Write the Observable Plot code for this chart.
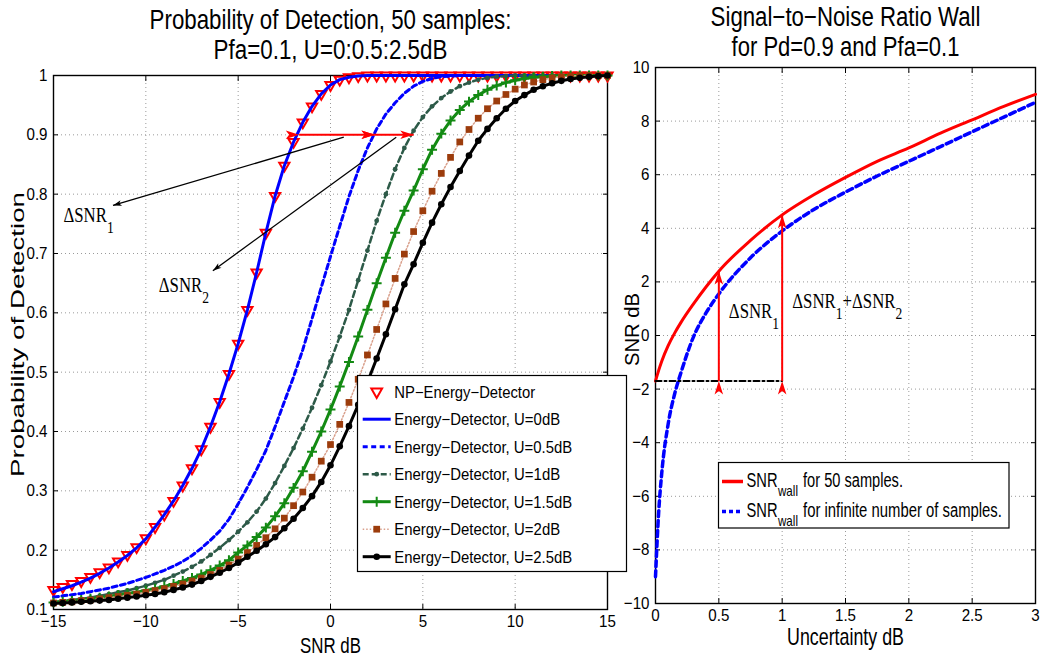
<!DOCTYPE html>
<html>
<head>
<meta charset="utf-8">
<script src="https://cdn.jsdelivr.net/npm/d3@7"></script>
<script src="https://cdn.jsdelivr.net/npm/@observablehq/plot@0.6"></script>
<style>
html,body{margin:0;padding:0;background:#fff;}
#wrap{position:relative;width:1046px;height:663px;overflow:hidden;background:#fff;}
#wrap > svg{position:absolute;top:0;overflow:visible;background:transparent !important;max-width:none !important;}
</style>
</head>
<body>
<div id="wrap"></div>
<script>
// ---------------- data ----------------
const snrDb = [-15,-14.5,-14,-13.5,-13,-12.5,-12,-11.5,-11,-10.5,-10,-9.5,-9,-8.5,-8,-7.5,-7,-6.5,-6,-5.5,-5,-4.5,-4,-3.5,-3,-2.5,-2,-1.5,-1,-0.5,0,0.5,1,1.5,2,2.5,3,3.5,4,4.5,5,5.5,6,6.5,7,7.5,8,8.5,9,9.5,10,10.5,11,11.5,12,12.5,13,13.5,14,14.5,15];

const pdNP = [0.133,0.138,0.143,0.148,0.155,0.163,0.171,0.181,0.192,0.205,0.220,0.239,0.260,0.283,0.309,0.338,0.370,0.408,0.450,0.497,0.548,0.605,0.668,0.735,0.797,0.848,0.888,0.921,0.948,0.969,0.984,0.993,0.997,0.999,
  1,1,1,1,1,1,1,1,1,1, 1,1,1,1,1,1,1,1,1,1, 1,1,1,1,1,1,1];
const pdU0 = [0.130,0.135,0.140,0.146,0.153,0.161,0.170,0.180,0.191,0.204,0.219,0.239,0.260,0.283,0.309,0.338,0.370,0.408,0.450,0.497,0.548,0.605,0.668,0.735,0.797,0.848,0.888,0.921,0.948,0.969,0.984,0.993,0.997,0.999,
  1,1,1,1,1,1,1,1,1,1, 1,1,1,1,1,1,1,1,1,1, 1,1,1,1,1,1,1];
const pdU05 = [0.121,0.123,0.125,0.127,0.130,0.133,0.136,0.140,0.144,0.149,0.154,0.160,0.166,0.173,0.181,0.191,0.203,0.217,0.232,0.252,0.278,0.306,0.336,0.368,0.408,0.450,0.492,0.538,0.590,0.643,0.695,0.746,0.796,0.840,0.878,0.910,0.935,0.954,0.970,0.982,0.990,0.995,0.998,0.999,
  1,1,1,1,1,1,1,1,1,1, 1,1,1,1,1,1,1];
const pdU1 = [0.113,0.114,0.116,0.118,0.120,0.123,0.126,0.129,0.132,0.136,0.140,0.145,0.150,0.157,0.164,0.172,0.181,0.192,0.204,0.217,0.231,0.247,0.265,0.287,0.313,0.342,0.372,0.405,0.440,0.478,0.518,0.560,0.605,0.655,0.705,0.755,0.800,0.842,0.878,0.907,0.930,0.948,0.962,0.973,0.982,0.988,0.993,0.996,0.998,0.999,
  1,1,1,1,1,1,1,1,1,1,1];
const pdU15 = [0.112,0.113,0.115,0.116,0.118,0.120,0.122,0.124,0.127,0.129,0.132,0.135,0.139,0.143,0.148,0.153,0.159,0.166,0.174,0.183,0.196,0.208,0.222,0.238,0.257,0.279,0.305,0.333,0.366,0.400,0.437,0.476,0.517,0.560,0.605,0.650,0.693,0.735,0.772,0.806,0.842,0.875,0.902,0.924,0.942,0.956,0.967,0.976,0.983,0.988,0.992,0.995,0.997,0.998,0.999,
  1,1,1,1,1,1];
const pdU2 = [0.111,0.112,0.113,0.115,0.116,0.118,0.120,0.122,0.124,0.126,0.129,0.132,0.135,0.139,0.143,0.148,0.153,0.159,0.166,0.175,0.185,0.196,0.208,0.221,0.236,0.254,0.275,0.298,0.323,0.350,0.378,0.412,0.449,0.488,0.529,0.572,0.615,0.658,0.699,0.737,0.772,0.805,0.835,0.862,0.888,0.909,0.928,0.944,0.957,0.968,0.977,0.984,0.989,0.993,0.996,0.998,0.999,
  1,1,1,1];
const pdU25 = [0.110,0.111,0.112,0.113,0.114,0.115,0.116,0.118,0.120,0.122,0.124,0.126,0.129,0.133,0.137,0.142,0.148,0.155,0.162,0.170,0.179,0.189,0.199,0.210,0.222,0.237,0.253,0.271,0.291,0.315,0.343,0.375,0.409,0.445,0.483,0.523,0.564,0.606,0.648,0.682,0.718,0.752,0.783,0.812,0.839,0.865,0.890,0.910,0.928,0.944,0.957,0.967,0.976,0.982,0.987,0.991,0.994,0.996,0.998,0.999,1.000];

const uncertDb = [0,0.025,0.05,0.1,0.15,0.2,0.3,0.4,0.5,0.75,1,1.25,1.5,1.75,2,2.25,2.5,2.75,3];
const wall50   = [-1.7,-1.3,-0.95,-0.38,0.08,0.48,1.18,1.82,2.4,3.55,4.5,5.25,5.9,6.5,7.0,7.55,8.05,8.55,9.0];
const wallInf  = [-9.0,-6.6,-5.1,-3.3,-2.2,-1.4,-0.05,0.85,1.55,2.9,3.9,4.7,5.35,5.95,6.5,7.05,7.6,8.15,8.7];

// tick values and labels
const leftXTicks = [-15,-10,-5,0,5,10,15];
const leftYTicks = [0.1,0.2,0.3,0.4,0.5,0.6,0.7,0.8,0.9,1];
const rightXTicks = [0,0.5,1,1.5,2,2.5,3];
const rightYTicks = [-10,-8,-6,-4,-2,0,2,4,6,8,10];
const leftTitle = ["Probability of Detection, 50 samples:", "Pfa=0.1, U=0:0.5:2.5dB"];
const rightTitle = ["Signal\u2212to\u2212Noise Ratio Wall", "for Pd=0.9 and Pfa=0.1"];
const leftXLabel = "SNR dB", leftYLabel = "Probability of Detection";
const rightXLabel = "Uncertainty dB", rightYLabel = "SNR dB";
const leftLegendLabels = ["NP\u2212Energy\u2212Detector","Energy\u2212Detector, U=0dB","Energy\u2212Detector, U=0.5dB","Energy\u2212Detector, U=1dB","Energy\u2212Detector, U=1.5dB","Energy\u2212Detector, U=2dB","Energy\u2212Detector, U=2.5dB"];
const rightLegendMain = ["SNR","SNR"];
const rightLegendSub = ["wall","wall"];
const rightLegendRest = ["for 50 samples.","for infinite number of samples."];

// annotations (data units)
const gapArrows = [{from:-1.7, to:2.4, pd:0.9},{from:2.4, to:4.5, pd:0.9}];
const leaderArrows = [{s1:0.72, p1:0.896, s2:-11.78, p2:0.781},{s1:3.56, p1:0.896, s2:-6.37, p2:0.671}];
const leftDelta = [{s:-14.46, p:0.765, text:"\u0394SNR_1"},{s:-9.30, p:0.646, text:"\u0394SNR_2"}];
const wallArrows = [{u:0.5, lo:-1.7, hi:2.4},{u:1, lo:-1.7, hi:4.5}];
const wallBase = [{u:0, v:-1.7},{u:1, v:-1.7}];
const rightDelta = [{u:0.579, v:0.92, text:"\u0394SNR_1"},{u:1.08, v:1.29, text:"\u0394SNR_1+\u0394SNR_2"}];

// ---------------- drawing ----------------
const SANS = "'Liberation Sans', Arial, Helvetica, sans-serif";
const SERIF = "'Liberation Serif', 'DejaVu Serif', 'Times New Roman', serif";
const GRID = "#9a9a9a";
const C_BLUE = "#0000ff", C_RED = "#ff0000", C_DKG = "#2d5a48", C_GRN = "#138a13", C_BRN = "#9c3c0c", C_BRNL = "#d9a08c";
const fmtNum = d => (d < 0 ? "\u2212" : "") + d3.format("~g")(Math.abs(d));
const rows = vals => snrDb.map((s, i) => ({s, p: vals[i]}));
const svgNS = "http://www.w3.org/2000/svg";

function axes(xt, yt) {
  return [
    Plot.gridX(xt, {stroke: GRID, strokeOpacity: 1, strokeDasharray: "1,3"}),
    Plot.gridY(yt, {stroke: GRID, strokeOpacity: 1, strokeDasharray: "1,3"}),
    Plot.frame({stroke: "black", strokeWidth: 1.4}),
    Plot.axisX(xt, {anchor: "bottom", tickSize: -5, tickPadding: 10, tickFormat: fmtNum, label: null}),
    Plot.axisX(xt, {anchor: "top", tickSize: -5, tickFormat: () => "", label: null}),
    Plot.axisY(yt, {anchor: "left", tickSize: -5, tickPadding: 11, tickFormat: fmtNum, label: null}),
    Plot.axisY(yt, {anchor: "right", tickSize: -5, tickFormat: () => "", label: null})
  ];
}
const T = {textAnchor: "middle", lineAnchor: "middle"};

const left = Plot.plot({
  width: 630, height: 663,
  marginLeft: 53, marginRight: 23, marginTop: 75, marginBottom: 54,
  x: {domain: [-15, 15]},
  y: {domain: [0.1, 1]},
  style: {fontFamily: SANS, fontSize: "17px", color: "black"},
  marks: [
    ...axes(leftXTicks, leftYTicks),
    Plot.dot(rows(pdNP), {x: "s", y: "p", symbol: "triangle", rotate: 180, r: 3.8, stroke: C_RED, strokeWidth: 2, fill: "none"}),
    Plot.line(rows(pdU0), {x: "s", y: "p", stroke: C_BLUE, strokeWidth: 3}),
    Plot.line(rows(pdU05), {x: "s", y: "p", stroke: C_BLUE, strokeWidth: 3, strokeDasharray: "5,3.5"}),
    Plot.line(rows(pdU1), {x: "s", y: "p", stroke: C_DKG, strokeWidth: 2.5, strokeDasharray: "6,3.5"}),
    Plot.dot(rows(pdU1), {x: "s", y: "p", r: 2.4, fill: C_DKG}),
    Plot.line(rows(pdU15), {x: "s", y: "p", stroke: C_GRN, strokeWidth: 3}),
    Plot.dot(rows(pdU15), {x: "s", y: "p", symbol: "plus", r: 3.3, stroke: C_GRN, strokeWidth: 2}),
    Plot.line(rows(pdU2), {x: "s", y: "p", stroke: C_BRNL, strokeWidth: 1.5, strokeDasharray: "1.5,2"}),
    Plot.dot(rows(pdU2), {x: "s", y: "p", symbol: "square", r: 3.8, fill: C_BRN}),
    Plot.line(rows(pdU25), {x: "s", y: "p", stroke: "black", strokeWidth: 3}),
    Plot.dot(rows(pdU25), {x: "s", y: "p", r: 3.3, fill: "black"}),
    Plot.link(leaderArrows, {x1: "s1", y1: "p1", x2: "s2", y2: "p2", stroke: "black", strokeWidth: 1.3, markerEnd: "arrow"}),
    Plot.link(gapArrows, {x1: "from", x2: "to", y1: "pd", y2: "pd", stroke: C_RED, strokeWidth: 2, markerStart: "arrow", markerEnd: "arrow"}),
    Plot.text(leftDelta, {x: "s", y: "p", text: "text", textAnchor: "start", lineAnchor: "middle", fontFamily: SERIF, fontSize: 21}),
    Plot.text([leftTitle[0]], {...T, text: d => d, frameAnchor: "top", dy: -55, fontSize: 28}),
    Plot.text([leftTitle[1]], {...T, text: d => d, frameAnchor: "top", dy: -25, fontSize: 28}),
    Plot.text([leftXLabel], {...T, text: d => d, frameAnchor: "bottom", dy: 36, fontSize: 22}),
    Plot.text([leftYLabel], {...T, text: d => d, frameAnchor: "left", dx: -36, dy: -8, rotate: -90, fontSize: 19})
  ]
});

const right = Plot.plot({
  width: 426, height: 663,
  marginLeft: 35, marginRight: 11, marginTop: 67, marginBottom: 60,
  x: {domain: [0, 3]},
  y: {domain: [-10, 10]},
  style: {fontFamily: SANS, fontSize: "17px", color: "black"},
  marks: [
    ...axes(rightXTicks, rightYTicks),
    Plot.line(uncertDb.map((u, i) => ({u, v: wall50[i]})), {x: "u", y: "v", stroke: C_RED, strokeWidth: 3, curve: "monotone-x"}),
    Plot.line(uncertDb.map((u, i) => ({u, v: wallInf[i]})), {x: "u", y: "v", stroke: C_BLUE, strokeWidth: 3.5, strokeDasharray: "6,4", curve: "monotone-x"}),
    Plot.line(wallBase, {x: "u", y: "v", stroke: "black", strokeWidth: 2, strokeDasharray: "6,3,2,3"}),
    Plot.link(wallArrows, {x1: "u", x2: "u", y1: "lo", y2: "hi", stroke: C_RED, strokeWidth: 2, markerStart: "arrow", markerEnd: "arrow"}),
    Plot.text(rightDelta, {x: "u", y: "v", text: "text", textAnchor: "start", lineAnchor: "middle", fontFamily: SERIF, fontSize: 21}),
    Plot.text([rightTitle[0]], {...T, text: d => d, frameAnchor: "top", dy: -50, fontSize: 27}),
    Plot.text([rightTitle[1]], {...T, text: d => d, frameAnchor: "top", dy: -20, fontSize: 27}),
    Plot.text([rightXLabel], {...T, text: d => d, frameAnchor: "bottom", dy: 34, fontSize: 23}),
    Plot.text([rightYLabel], {...T, text: d => d, frameAnchor: "left", dx: -23, dy: -6, rotate: -90, fontSize: 20})
  ]
});

const wrap = document.getElementById("wrap");
left.style.left = "0px";
right.style.left = "620px";
wrap.appendChild(left);
wrap.appendChild(right);

// filled arrowheads
function fixMarkers(svg) {
  d3.select(svg).selectAll("marker").each(function() {
    const m = d3.select(this);
    const c = m.attr("stroke");
    m.attr("fill", c).attr("stroke", "none").attr("overflow", "visible");
    m.selectAll("path").attr("d", "M-10,-3.2L0,0L-10,3.2L-7.5,0Z");
  });
}
fixMarkers(left); fixMarkers(right);

// subscripts written as X_1 in the text
function subscriptify(svg, subSize, shift) {
  d3.select(svg).selectAll("text").each(function() {
    const s = this.textContent;
    if (!s.includes("_")) return;
    const parts = s.split(/_(\{[^}]*\}|.)/);
    while (this.firstChild) this.removeChild(this.firstChild);
    parts.forEach((p, i) => {
      if (!p) return;
      const sub = i % 2 === 1;
      const ts = document.createElementNS(svgNS, "tspan");
      ts.textContent = sub ? p.replace(/[{}]/g, "") : p;
      if (sub) { ts.setAttribute("font-size", subSize); ts.setAttribute("dy", shift); }
      else if (i > 0) ts.setAttribute("dy", -shift);
      this.appendChild(ts);
    });
    this.setAttribute("data-serif", "1");
  });
}
subscriptify(left, 17, 11);
subscriptify(right, 17, 11);

// horizontal squish of text to match reference proportions
function squish(el, f) {
  const t = el.getAttribute("transform") || "";
  el.setAttribute("transform", t + ` scale(${f},1)`);
}
function fitTexts(svg, targets, defaultF) {
  d3.select(svg).selectAll("text").each(function() {
    const s = this.textContent;
    if (!s) return;
    let f = defaultF;
    if (this.getAttribute("data-serif")) f = 0.8;
    else if (targets[s] !== undefined) f = targets[s] / this.getComputedTextLength();
    if (f !== 1) squish(this, f);
  });
}
fitTexts(left, {
  [leftTitle[0]]: 362, [leftTitle[1]]: 234, [leftXLabel]: 61, [leftYLabel]: 285
}, 0.89);
fitTexts(right, {
  [rightTitle[0]]: 270, [rightTitle[1]]: 228, [rightXLabel]: 117, [rightYLabel]: 73
}, 0.89);

// ---------- left legend ----------
(function() {
  const g = d3.select(left).append("g").attr("text-anchor", "start");
  g.append("rect").attr("x", 357.5).attr("y", 375.5).attr("width", 269).attr("height", 196)
    .attr("fill", "white").attr("stroke", "black").attr("stroke-width", 1.2);
  const st = [
    {marker: "tri"},
    {stroke: C_BLUE, w: 3},
    {stroke: C_BLUE, w: 3, dash: "5,3.5"},
    {stroke: C_DKG, w: 2.5, dash: "6,3", marker: "dot", mfill: C_DKG, r: 2.4},
    {stroke: C_GRN, w: 3, marker: "plus", r: 3.3},
    {stroke: C_BRNL, w: 1.5, dash: "1.5,2", marker: "square", mfill: C_BRN, r: 3.8},
    {stroke: "black", w: 3, marker: "dot", mfill: "black", r: 3.3}
  ];
  const widths = [141, 166, 178, 166, 178, 166, 178];
  leftLegendLabels.forEach((lab, i) => {
    const cy = 391.7 + i * 27.5, x0 = 362.7, x1 = 390.7, cx = 376.7;
    const s = st[i];
    if (s.stroke) g.append("line").attr("x1", x0).attr("x2", x1).attr("y1", cy).attr("y2", cy)
      .attr("stroke", s.stroke).attr("stroke-width", s.w).attr("stroke-dasharray", s.dash || null);
    if (s.marker === "tri") g.append("path").attr("d", d3.symbol(d3.symbolTriangle, Math.PI * 4 * 4)())
      .attr("transform", `translate(${cx},${cy}) rotate(180)`).attr("fill", "none").attr("stroke", C_RED).attr("stroke-width", 2);
    if (s.marker === "dot") g.append("circle").attr("cx", cx).attr("cy", cy).attr("r", s.r).attr("fill", s.mfill);
    if (s.marker === "plus") g.append("path").attr("d", d3.symbol(d3.symbolPlus, Math.PI * s.r * s.r)())
      .attr("transform", `translate(${cx},${cy})`).attr("fill", "none").attr("stroke", C_GRN).attr("stroke-width", 2);
    if (s.marker === "square") g.append("path").attr("d", d3.symbol(d3.symbolSquare, Math.PI * s.r * s.r)())
      .attr("transform", `translate(${cx},${cy})`).attr("fill", s.mfill);
    const t = g.append("text").attr("text-anchor", "start").attr("font-family", SANS).attr("font-size", 16.5).attr("fill", "black")
      .attr("transform", `translate(394.3,${cy + 5.9})`).text(lab);
    const L = t.node().getComputedTextLength();
    squish(t.node(), widths[i] / L);
  });
})();

// ---------- right legend ----------
(function() {
  const ox = 620;
  const g = d3.select(right).append("g").attr("text-anchor", "start");
  g.append("rect").attr("x", 718.5 - ox).attr("y", 462.5).attr("width", 290.5).attr("height", 65.5)
    .attr("fill", "white").attr("stroke", "black").attr("stroke-width", 1.2);
  const ys = [480, 510];
  const restW = [100, 199];
  ys.forEach((cy, i) => {
    const ln = g.append("line").attr("x1", 722 - ox).attr("x2", 743 - ox).attr("y1", cy + 1.5).attr("y2", cy + 1.5)
      .attr("stroke", i ? C_BLUE : C_RED).attr("stroke-width", 3.5);
    if (i) ln.attr("stroke-dasharray", "4,3");
    const base = cy + 6.8;
    const mk = (x, y, size, txt, w) => {
      const t = g.append("text").attr("text-anchor", "start").attr("font-family", SANS).attr("font-size", size).attr("fill", "black")
        .attr("transform", `translate(${x - ox},${y})`).text(txt);
      squish(t.node(), w / t.node().getComputedTextLength());
    };
    mk(746.5, base, 20, rightLegendMain[i], 31);
    mk(778, base + 9, 14, rightLegendSub[i], 20);
    mk(803, base, 20, rightLegendRest[i], restW[i]);
  });
})();
</script>
</body>
</html>
